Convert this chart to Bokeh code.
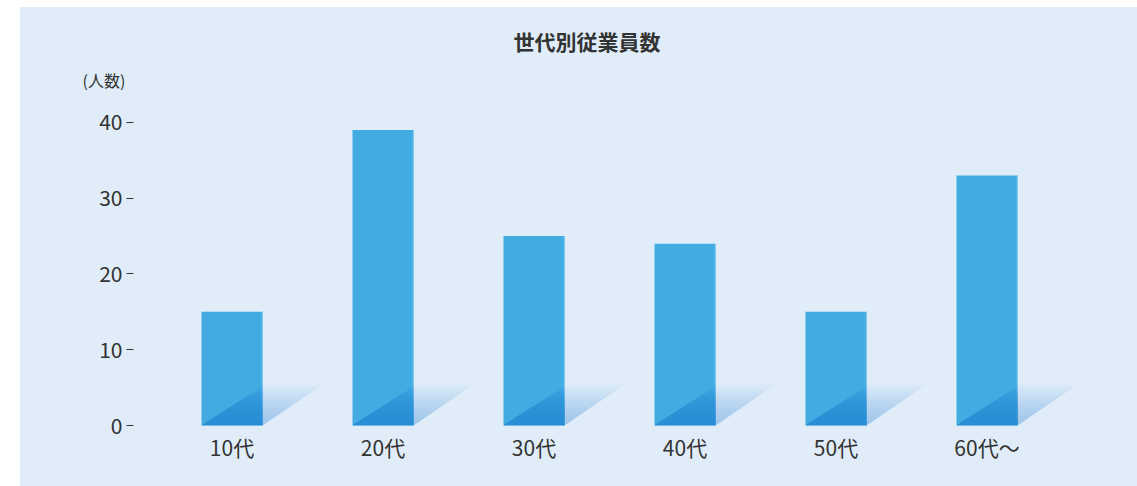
import numpy as np
from bokeh.plotting import figure
from bokeh.models import Range1d, FixedTicker, Title
from bokeh.embed import file_html
from bokeh.resources import INLINE

# ---- data ----
categories = ["10代", "20代", "30代", "40代", "50代", "60代～"]
counts = [15, 39, 25, 24, 15, 33]
y_ticks = [0, 10, 20, 30, 40]
title_text = "世代別従業員数"
unit_text = "(人数)"

# ---- style ----
BG = "#e0edf8"
BAR = "#42ace2"
DARK = "#2a8dd5"
SHADOW = "#5aa8e6"
TXT = "#333333"
FONT = "Noto Sans CJK JP"

BAR_W = 0.404
SH_W = 0.397      # shadow horizontal reach (x units)
SH_H = 5.4        # shadow height (y units)
IN_H = 5.15       # inner dark triangle height (y units)
N = 14

x = np.arange(len(categories), dtype=float)

p = figure(width=1117, height=479,
           x_range=Range1d(-0.6523, 5.7517), y_range=Range1d(0, 43.56),
           output_backend="svg", toolbar_location=None,
           min_border_left=113, min_border_right=37,
           min_border_top=88, min_border_bottom=61,
           background_fill_color=None, border_fill_color=BG,
           outline_line_color=None)
p.margin = (7, 0, 0, 20)
p.styles = {"background-color": BG}
p.grid.visible = False

# unit label (nearest the frame) and chart title (above it)
p.add_layout(Title(text=unit_text, align="left", offset=-51, standoff=7,
                   text_font=FONT, text_font_size="16px",
                   text_font_style="normal", text_color=TXT), "above")
p.add_layout(Title(text=title_text, align="left", offset=380, standoff=14,
                   text_font=FONT, text_font_size="21px",
                   text_font_style="bold", text_color=TXT), "above")

# bars
p.vbar(x=x, top=counts, width=BAR_W, color=BAR, line_color=None)

lefts = x - BAR_W / 2
rights = x + BAR_W / 2

# light right edge on bars
p.segment(x0=rights - 0.004, y0=np.zeros(len(x)), x1=rights - 0.004, y1=counts,
          line_color="#5ebbee", line_width=1)

# inner dark gradient triangles (stacked translucent layers)
xs_in, ys_in = [], []
for i in range(len(x)):
    l, r = lefts[i], rights[i]
    w = r - l
    for k in range(N):
        yk = IN_H * (k + 1) / N
        xs_in.append([l, r, r, l + w * yk / IN_H])
        ys_in.append([0, 0, yk, yk])
p.patches(xs_in, ys_in, fill_color=DARK, fill_alpha=0.17, line_color=None)

# outer shadow gradient triangles
xs_sh, ys_sh = [], []
for i in range(len(x)):
    r = rights[i]
    for k in range(N):
        yk = SH_H * (k + 1) / N
        xs_sh.append([r, r + SH_W * yk / SH_H, r])
        ys_sh.append([0, yk, yk])
p.patches(xs_sh, ys_sh, fill_color=SHADOW, fill_alpha=0.045, line_color=None)

# axes
xa = p.xaxis[0]
xa.ticker = FixedTicker(ticks=list(x))
xa.major_label_overrides = {i: c for i, c in enumerate(categories)}
xa.major_tick_line_color = None
xa.minor_tick_line_color = None
xa.axis_line_color = None
xa.major_label_standoff = 0
xa.major_label_text_font = FONT
xa.major_label_text_font_size = "21px"
xa.major_label_text_color = TXT

ya = p.yaxis[0]
ya.ticker = FixedTicker(ticks=y_ticks)
ya.major_tick_out = 7
ya.major_tick_in = 0
ya.major_tick_line_color = TXT
ya.major_tick_line_width = 1
ya.minor_tick_line_color = None
ya.axis_line_color = None
ya.major_label_standoff = 4
ya.major_label_text_font = FONT
ya.major_label_text_font_size = "21px"
ya.major_label_text_color = TXT

open("out.html", "w").write(file_html(p, INLINE))
